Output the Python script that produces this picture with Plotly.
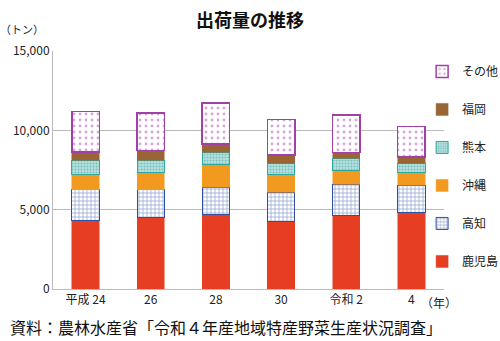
import plotly.graph_objects as go

years = ["平成 24", "26", "28", "30", "令和 2", "4"]
kagoshima = [4300, 4515, 4725, 4240, 4620, 4830]
kochi = [1940, 1725, 1700, 1870, 1995, 1720]
okinawa = [985, 1110, 1405, 1115, 885, 800]
kumamoto = [905, 780, 780, 715, 755, 565]
fukuoka = [490, 590, 525, 500, 355, 420]
others = [2560, 2370, 2585, 2230, 2350, 1895]
y_ticks = [0, 5000, 10000, 15000]

FONT = "Noto Sans CJK JP"

fig = go.Figure()
series = [
    ("鹿児島", kagoshima, dict(color="#E63E22", line=dict(color="#E63E22", width=0.5))),
    ("高知", kochi, dict(color="white", line=dict(color="#2E4FA3", width=1),
                        pattern=dict(shape="+", fgcolor="#2E4FA3", bgcolor="white", size=4, solidity=0.35))),
    ("沖縄", okinawa, dict(color="#F29A1F", line=dict(color="#F29A1F", width=0.5))),
    ("熊本", kumamoto, dict(color="#9FD6D4", line=dict(color="#2FA8A0", width=1),
                          pattern=dict(shape=".", fgcolor="#3A9C98", bgcolor="#B8E2E0", size=3, solidity=0.4))),
    ("福岡", fukuoka, dict(color="#9A6434", line=dict(color="#9A6434", width=0.5))),
    ("その他", others, dict(color="white", line=dict(color="#A040A8", width=1.5),
                          pattern=dict(shape=".", fgcolor="#B050B8", bgcolor="white", size=6, solidity=0.18))),
]
n = len(series)
for i, (name, vals, marker) in enumerate(series):
    fig.add_trace(go.Bar(x=years, y=vals, name=name, marker=marker, legendgroup=name,
                         legendrank=n - i))

fig.update_layout(
    barmode="stack",
    bargap=0.58,
    width=500, height=341,
    margin=dict(l=53, r=56, t=51, b=52, autoexpand=False),
    paper_bgcolor="white", plot_bgcolor="white",
    font=dict(family=FONT, size=12, color="#222"),
    title=dict(text="<b>出荷量の推移</b>", x=0.5, xanchor="center", y=0.94, yanchor="middle",
               font=dict(size=18, color="#111")),
    legend=dict(x=0.944, xanchor="left", y=0.975, yanchor="top",
                traceorder="grouped", tracegroupgap=19, bgcolor="rgba(0,0,0,0)",
                font=dict(size=12, color="#222"), itemwidth=30),
    showlegend=True,
    yaxis=dict(range=[0, 15000], tickvals=y_ticks, tickformat=",", showgrid=True,
               gridcolor="#BBBBBB", gridwidth=1, showline=True, linecolor="#BBBBBB",
               zeroline=False, ticks="", tickfont=dict(size=12, color="#222")),
    xaxis=dict(showline=True, linecolor="#BBBBBB", ticks="", tickfont=dict(size=12, color="#222")),
)
fig.add_annotation(text="（トン）", xref="paper", yref="paper", x=-0.14, y=1.05,
                   xanchor="left", yanchor="bottom", showarrow=False, font=dict(size=11, color="#222"))
fig.add_annotation(text="（年）", xref="paper", yref="paper", x=0.935, y=-0.055,
                   xanchor="left", yanchor="middle", showarrow=False, font=dict(size=12, color="#222"))
fig.add_annotation(text="資料：農林水産省「令和４年産地域特産野菜生産状況調査」", xref="paper", yref="paper",
                   x=-0.115, y=-0.16, xanchor="left", yanchor="middle", showarrow=False,
                   font=dict(size=16, color="#111"))

fig.write_html("out.html")
